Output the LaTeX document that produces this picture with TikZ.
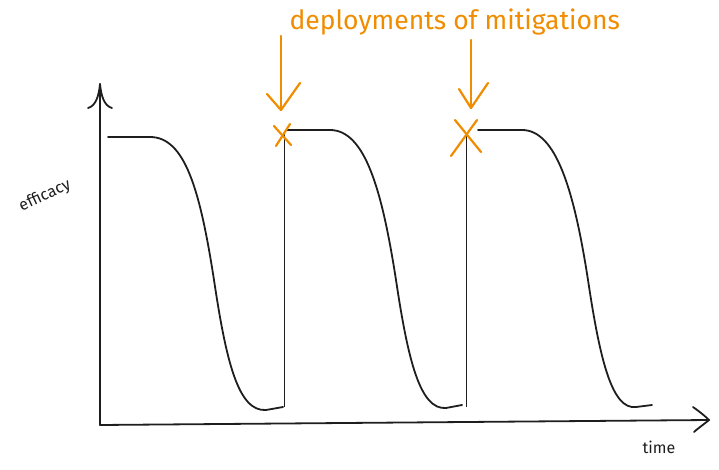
\documentclass[tikz,border=0pt]{standalone}
\usepackage{fontspec}
\setmainfont{Fira Sans}
\usepackage{tikz}
\usetikzlibrary{positioning}
\definecolor{ink}{HTML}{1E1E1E}
\definecolor{mitig}{HTML}{F08C00}
\tikzset{
  axis/.style={ink, line width=1.8pt, line cap=round, line join=round},
  curve/.style={ink, line width=1.8pt, line cap=round},
  redeploy/.style={ink, line width=0.8pt},
  mitigline/.style={mitig, line width=2.2pt, line cap=round, line join=round},
  lbl/.style={ink, font=\fontsize{16}{16}\selectfont}
}

\begin{document}
\begin{tikzpicture}[x=1pt,y=-1pt]

  \useasboundingbox (0,0) rectangle (719,470);

  \coordinate (origin) at (100,425);
  \coordinate (ytip) at (100,84);
  \coordinate (xtip) at (709,420);

  % axes
  \draw [axis] (origin) -- (ytip);
  \draw [axis] (88,108) .. controls (96,106) and (99,95) .. (ytip)
               .. controls (101,95) and (104,106) .. (112,108);
  \draw [axis] (origin) -- (xtip);
  \draw [axis] (693,407) .. controls (700,412) and (705,416) .. (xtip)
               .. controls (703,425) and (697,429) .. (694,432);

  \node [lbl, rotate=25] (ylabel) at (45,196) {efficacy};
  \node [lbl] (xlabel) at (659,447) {time};

  % efficacy curves
  \draw [curve] (108,137) -- (150,137)
    .. controls (185,137) and (200,190) .. (214,280)
    .. controls (226,360) and (238,412) .. (266,410) -- (283,407);
  \draw [curve] (287,130) -- (330,130)
    .. controls (365,130) and (382,190) .. (396,280)
    .. controls (408,360) and (420,410) .. (446,408) -- (462,405);
  \draw [curve] (478,130) -- (522,130)
    .. controls (556,130) and (574,190) .. (588,280)
    .. controls (600,360) and (612,410) .. (636,407) -- (652,405);

  % redeployments
  \coordinate (d1) at (284,133);
  \coordinate (d2) at (466,135);
  \draw [redeploy] (284,407) -- (d1);
  \draw [redeploy] (466,407) -- (d2);

  \draw [mitigline] (274,126) -- (291,145);
  \draw [mitigline] (290,124) -- (276,146);
  \draw [mitigline] (455,120) -- (481,152);
  \draw [mitigline] (477,120) -- (451,156);

  \node [mitig, font=\fontsize{26.5}{26.5}\selectfont, anchor=west] (title) at (286,22) {deployments of mitigations};

  \draw [mitigline] (281,36) -- (281,110);
  \draw [mitigline] (267,94) -- (281,110) -- (300,83);
  \draw [mitigline] (471,40) -- (471,108);
  \draw [mitigline] (459,89) -- (471,108) -- (488,83);

\end{tikzpicture}
\end{document}
